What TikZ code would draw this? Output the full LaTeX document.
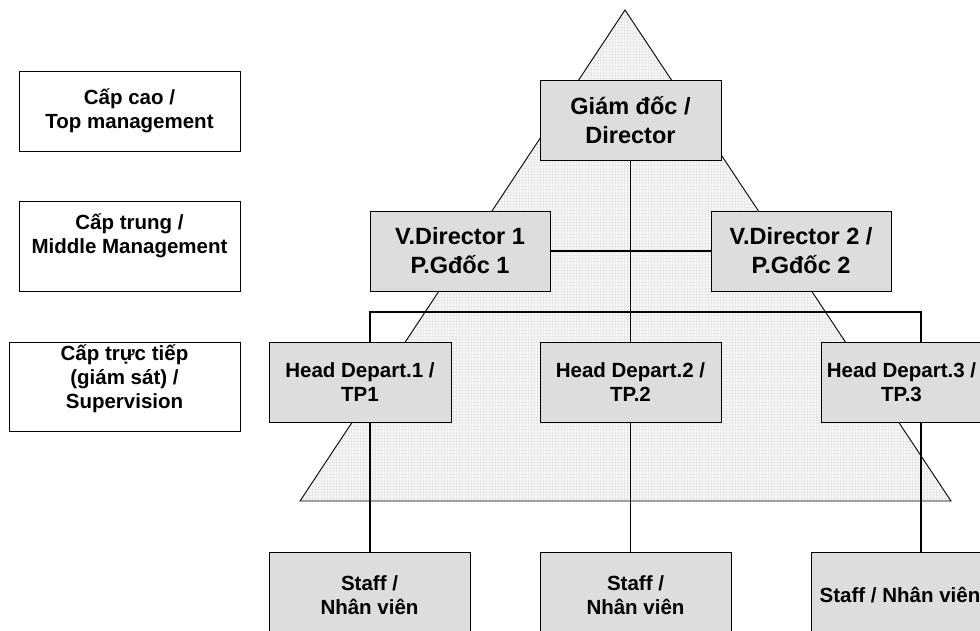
\documentclass[tikz,border=0pt]{standalone}
\usepackage{fontspec}
\setmainfont{Liberation Sans}
\usetikzlibrary{patterns}
\definecolor{boxgray}{RGB}{221,221,221}
\definecolor{tripaper}{RGB}{248,248,248}
\begin{document}
\begin{tikzpicture}[x=1pt,y=-1pt,
  every node/.style={inner sep=0pt, outer sep=0pt, align=center,
    font=\bfseries\fontsize{20.5}{24}\selectfont},
  levelbox/.style={draw=black, line width=1pt, fill=white},
  orgbox/.style={draw=black, line width=1pt, fill=boxgray},
  bigtext/.style={font=\bfseries\fontsize{23.5}{29}\selectfont},
  thinlink/.style={line width=1.2pt},
  thicklink/.style={line width=2.6pt}]

\useasboundingbox (0,0) rectangle (980,630);

% background pyramid
\draw[line width=0.9pt, preaction={fill=tripaper}, pattern=grid, pattern color=gray!18]
  (625,10) -- (300,501) -- (951,501) -- cycle;

% management levels
\node[levelbox, minimum width=221pt, minimum height=80pt] (top) at (129.5,111)
  {Cấp cao /\\Top management};
\node[levelbox, minimum width=221pt, minimum height=90pt] (mid) at (129.5,246)
  {Cấp trung /\\Middle Management\rule[-24pt]{0pt}{0pt}};
\node[levelbox, minimum width=231pt, minimum height=89pt] (sup) at (124.5,386.5)
  {Cấp trực tiếp\\ (giám sát) /\\Supervision\rule[-19pt]{0pt}{0pt}};

% organisation chart
\node[orgbox, bigtext, minimum width=181pt, minimum height=80pt] (dir) at (630.5,120)
  {Giám đốc /\\Director};
\node[orgbox, bigtext, minimum width=180pt, minimum height=80pt] (vd1) at (460,251)
  {V.Director 1\\P.Gđốc 1};
\node[orgbox, bigtext, minimum width=180pt, minimum height=80pt] (vd2) at (801,251)
  {V.Director 2 /\\P.Gđốc 2};

\node[orgbox, minimum width=182pt, minimum height=80pt] (hd1) at (360,382)
  {Head Depart.1 /\\TP1};
\node[orgbox, minimum width=181pt, minimum height=80pt] (hd2) at (630.5,382)
  {Head Depart.2 /\\TP.2};
\node[orgbox, minimum width=161pt, minimum height=80pt] (hd3) at (901.5,382)
  {Head Depart.3 /\\TP.3};

\node[orgbox, minimum width=201pt, minimum height=86pt] (st1) at (369.5,595)
  {Staff /\\Nhân viên};
\node[orgbox, minimum width=191pt, minimum height=86pt] (st2) at (635.5,595)
  {Staff /\\Nhân viên};
\node[orgbox, minimum width=178pt, minimum height=86pt] (st3) at (900,595)
  {Staff / Nhân viên};

% connectors
\coordinate (busL) at (370,312);
\coordinate (busR) at (921,312);

\draw[thinlink] (dir.south) -- (hd2.north);
\draw[thinlink] (vd1.east) -- (vd2.west);
\draw[thicklink] (busL |- hd1.north) -- (busL) -- (busR) -- (busR |- hd3.north);
\draw[thicklink] (busL |- hd1.south) -- (busL |- st1.north);
\draw[thinlink] (hd2.south) -- (hd2.south |- st2.north);
\draw[thicklink] (busR |- hd3.south) -- (busR |- st3.north);
\end{tikzpicture}
\end{document}
